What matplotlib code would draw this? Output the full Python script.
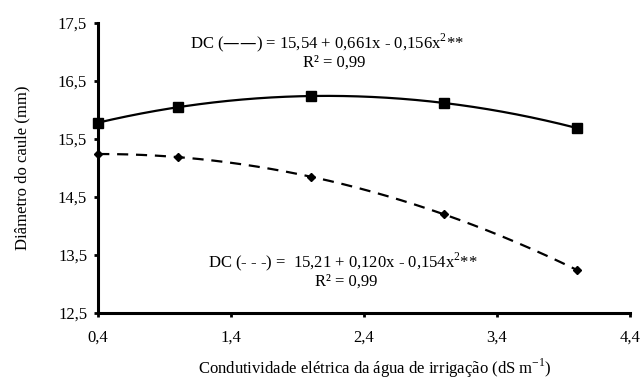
import numpy as np
import matplotlib
matplotlib.use("Agg")
import matplotlib.pyplot as plt

plt.rcParams['font.family'] = ['Liberation Serif', 'DejaVu Serif']

# dados
ce = [0.4, 1.0, 2.0, 3.0, 4.0]
dc_solida = [15.78, 16.05, 16.24, 16.12, 15.69]
dc_tracejada = [15.24, 15.19, 14.84, 14.21, 13.24]
xticks = [0.4, 1.4, 2.4, 3.4, 4.4]
yticks = [12.5, 13.5, 14.5, 15.5, 16.5, 17.5]

W, H = 642, 383
fig = plt.figure(figsize=(W / 100, H / 100), dpi=100)
ax = fig.add_axes([0.153, 0.183, 0.828, 0.757])

# linhas de tendencia (quadraticas)
xx = np.linspace(min(ce), max(ce), 200)
p1 = np.polyfit(ce, dc_solida, 2)
p2 = np.polyfit(ce, dc_tracejada, 2)
ax.plot(xx, np.polyval(p1, xx), color='black', lw=1.6)
ax.plot(xx, np.polyval(p2, xx), color='black', lw=1.6, ls=(0, (5, 3.5)))
ax.plot(ce, dc_solida, 's', color='black', ms=7, ls='none', clip_on=False)
ax.plot(ce, dc_tracejada, 'D', color='black', ms=4.5, ls='none', clip_on=False)

ax.set_xlim(0.4, 4.4)
ax.set_ylim(12.5, 17.5)
ax.set_xticks(xticks)
ax.set_yticks(yticks)
ax.set_xticklabels([f"{v:.1f}".replace('.', ',') for v in xticks])
ax.set_yticklabels([f"{v:.1f}".replace('.', ',') for v in yticks])
for s in ['top', 'right']:
    ax.spines[s].set_visible(False)
for s in ['left', 'bottom']:
    ax.spines[s].set_linewidth(2.2)
ax.tick_params(direction='out', length=3, width=2, labelsize=12, pad=5)
ax.tick_params(axis='x', pad=9)

ax.set_ylabel('Diâmetro do caule (mm)', fontsize=12)
ax.yaxis.set_label_coords(-0.128, 0.5)
ax.set_xlabel('Condutividade elétrica da água de irrigação (dS m$^{\\mathregular{-1}}$)',
              fontsize=12)
ax.xaxis.set_label_coords(0.52, -0.15)


def txt(x, y, s):
    fig.text(x / W, 1 - y / H, s, fontsize=12, va='center', ha='left')


txt(190, 43, 'DC (——) = 15,54 + 0,661x - 0,156x$^{\\mathregular{2}}$**')
txt(303, 63, 'R² = 0,99')
txt(208, 262, 'DC (- - -) =  15,21 + 0,120x - 0,154x$^{\\mathregular{2}}$**')
txt(315, 282, 'R² = 0,99')

fig.savefig('out.png', dpi=100)
